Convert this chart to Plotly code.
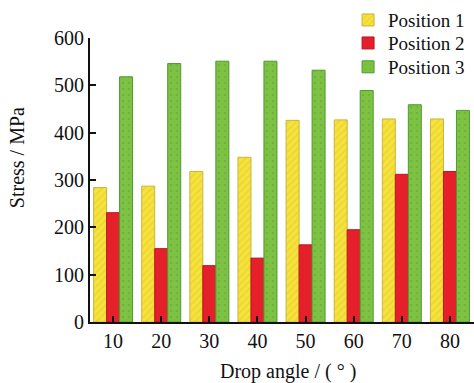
import plotly.graph_objects as go

angles = [10, 20, 30, 40, 50, 60, 70, 80]
pos1 = [284, 287, 318, 348, 426, 427, 429, 429]
pos2 = [231, 155, 119, 135, 163, 195, 312, 318]
pos3 = [518, 546, 551, 551, 532, 489, 459, 447]
names = ["Position 1", "Position 2", "Position 3"]

font_fam = "Liberation Serif, Times New Roman, serif"

fig = go.Figure()
fig.add_trace(go.Bar(x=angles, y=pos1, name=names[0], legend="legend",
                     marker=dict(color="#F6E23C", line=dict(color="#C9B43A", width=1),
                                 pattern=dict(shape="/", fgcolor="#E0C52A", size=5, solidity=0.3))))
fig.add_trace(go.Bar(x=angles, y=pos2, name=names[1], legend="legend2",
                     marker=dict(color="#E5202B", line=dict(color="#B81A22", width=1))))
fig.add_trace(go.Bar(x=angles, y=pos3, name=names[2], legend="legend3",
                     marker=dict(color="#7DC243", line=dict(color="#4E9A2E", width=1),
                                 pattern=dict(shape=".", fgcolor="#5FA538", size=6, solidity=0.15))))

leg_common = dict(x=0.672, xanchor="left", yanchor="middle",
                  font=dict(size=19, family=font_fam, color="#111"),
                  bgcolor="rgba(0,0,0,0)", itemwidth=30)

fig.update_layout(
    width=474, height=383,
    margin=dict(l=90, r=0, t=38, b=61),
    paper_bgcolor="white", plot_bgcolor="white",
    barmode="group", bargap=0.19, bargroupgap=0,
    font=dict(family=font_fam, size=20, color="#111"),
    showlegend=True,
    legend=dict(y=1.063, **leg_common),
    legend2=dict(y=0.982, **leg_common),
    legend3=dict(y=0.898, **leg_common),
    xaxis=dict(range=[5.2, 85], tickvals=angles, ticktext=[str(a) for a in angles],
               showline=True, linecolor="#111", linewidth=2,
               ticks="inside", ticklen=6, tickcolor="#111", tickwidth=1.5,
               showgrid=False, zeroline=False),
    yaxis=dict(range=[0, 600], tickvals=[0, 100, 200, 300, 400, 500, 600],
               showline=True, linecolor="#111", linewidth=2,
               ticks="inside", ticklen=6, tickcolor="#111", tickwidth=1.5,
               showgrid=False, zeroline=False),
    annotations=[
        dict(text="Stress / MPa", xref="paper", yref="paper", x=-0.19, y=0.577,
             textangle=-90, showarrow=False, xanchor="center", yanchor="middle",
             font=dict(size=20, family=font_fam, color="#111")),
        dict(text="Drop angle / ( ° )", xref="paper", yref="paper", x=0.516, y=-0.176,
             showarrow=False, xanchor="center", yanchor="middle",
             font=dict(size=20, family=font_fam, color="#111")),
    ],
)

fig.write_html("out.html")
